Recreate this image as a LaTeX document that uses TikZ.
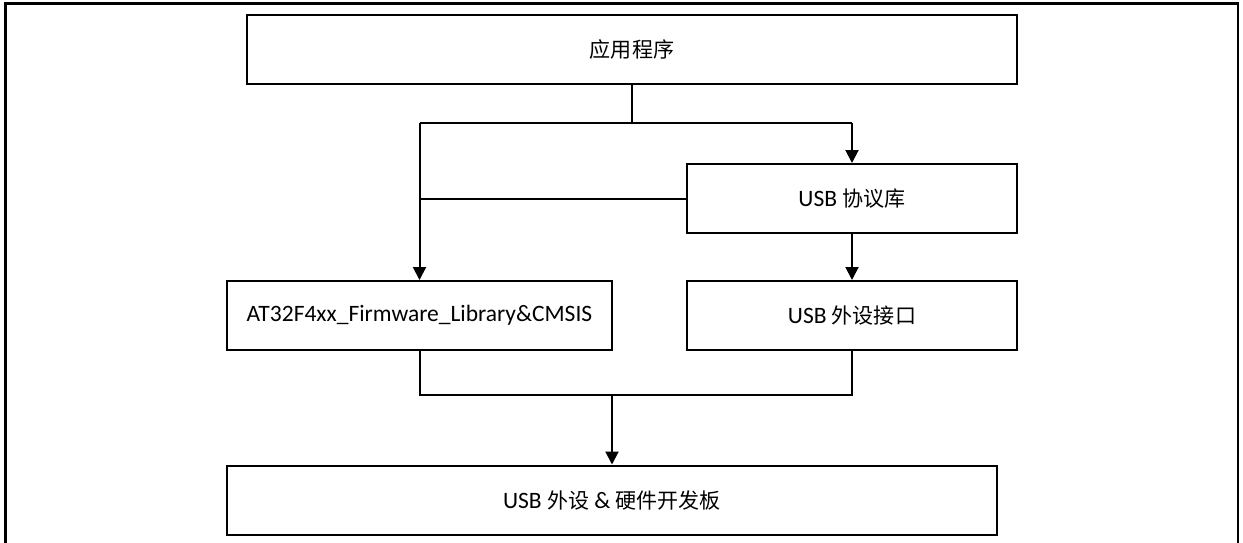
\documentclass[tikz,border=0pt]{standalone}
\usepackage{fontspec}
\setmainfont{Carlito}
\newfontfamily\cjk[Scale=0.895]{Noto Sans CJK SC}
\usetikzlibrary{arrows.meta}
\begin{document}
\begin{tikzpicture}[x=1pt,y=-1pt,
  blk/.style={draw=black,line width=2pt,minimum height=69pt,inner sep=0pt,font=\fontsize{23.5}{27}\selectfont},
  conn/.style={line width=2pt},
  arr/.style={line width=2pt,-{Triangle[length=13pt,width=13pt]}}]
\useasboundingbox (0,0) rectangle (1243,542);
\begin{scope}
\clip (0,0) rectangle (1243,542);
\draw[line width=2.2pt] (5.5,560) -- (5.5,3.5) -- (1238,3.5) -- (1238,560);
\end{scope}
\node[blk,minimum width=770pt] (app) at (632,49) {\cjk 应用程序};
\node[blk,minimum width=330pt] (usb) at (852,198.5) {USB {\cjk 协议库}};
\node[blk,minimum width=385pt] (fw) at (419.5,315.5) {AT32F4xx\_Firmware\_Library\&CMSIS};
\node[blk,minimum width=330pt] (usbif) at (852,315.5) {USB {\cjk 外设接口}};
\node[blk,minimum width=770pt] (board) at (612,500) {USB {\cjk 外设} \& {\cjk 硬件开发板}};
\coordinate (t) at (632,123);
\coordinate (tl) at (419.5,123);
\coordinate (tr) at (852,123);
\coordinate (ml) at (419.5,198.5);
\coordinate (bl) at (419.5,395);
\coordinate (br) at (852,395);
\coordinate (bm) at (612,395);
\draw[conn] (app.south) -- (t);
\draw[conn] (tl) -- (tr);
\draw[arr] (tl) -- (fw.north);
\draw[arr] (tr) -- (usb.north);
\draw[conn] (usb.west) -- (ml);
\draw[arr] (usb.south) -- (usbif.north);
\draw[conn] (fw.south) -- (bl) -- (br) -- (usbif.south);
\draw[arr] (bm) -- (board.north);
\end{tikzpicture}
\end{document}
